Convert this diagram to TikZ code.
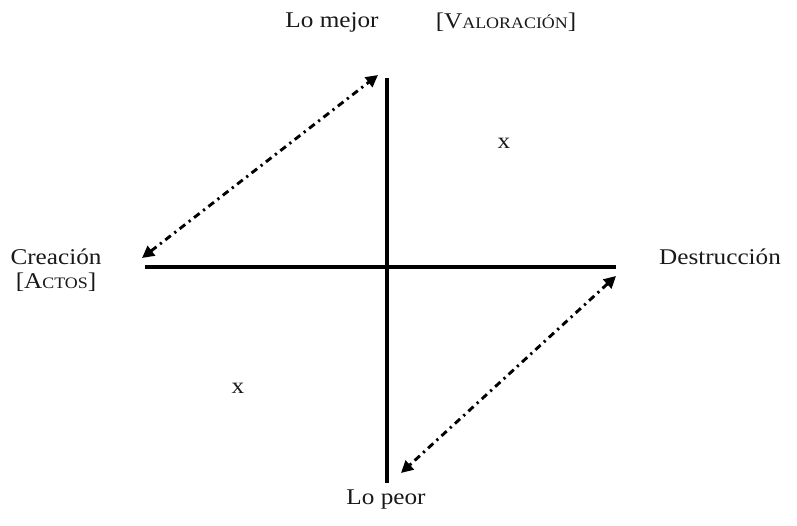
\documentclass[tikz,border=0pt]{standalone}
\usepackage{fontspec}
\setmainfont{Liberation Serif}[FakeStretch=1.12]
\usetikzlibrary{arrows.meta}
\newcommand{\fsc}[2]{#1{\fontsize{16}{18}\selectfont #2}}
\begin{document}
\begin{tikzpicture}[x=1pt,y=-1pt,
  lbl/.style={font=\fontsize{22.5}{25}\selectfont, inner sep=0pt, text=black!90},
  axis/.style={line width=3.3pt},
  dd/.style={line width=2.9pt, dash pattern=on 7pt off 4.5pt on 2.2pt off 4.5pt, {Triangle[length=12pt,width=12pt]}-{Triangle[length=12pt,width=12pt]}}]
\useasboundingbox (0,0) rectangle (797,525);
\coordinate (L) at (145,267);
\coordinate (R) at (616,267);
\coordinate (T) at (387,78);
\coordinate (B) at (387,483);
\draw[axis] (L) -- (R);
\draw[axis] (T) -- (B);
\coordinate (a1) at (142,258);
\coordinate (a2) at (378,75);
\coordinate (b1) at (616,276);
\coordinate (b2) at (401,473);
\draw[dd] (a1) -- (a2);
\draw[dd] (b1) -- (b2);
\node[lbl] (mejor) at (332,22) {Lo mejor};
\node[lbl] (val) at (506,22) {[\fsc{V}{ALORACIÓN}]};
\node[lbl] (crea) at (56,257) {Creación};
\node[lbl] (actos) at (56,282) {[\fsc{A}{CTOS}]};
\node[lbl] (des) at (720,257) {Destrucción};
\node[lbl] (peor) at (386,500) {Lo peor};
\node[lbl] (x1) at (504,143) {x};
\node[lbl] (x2) at (238,388) {x};
\end{tikzpicture}
\end{document}
